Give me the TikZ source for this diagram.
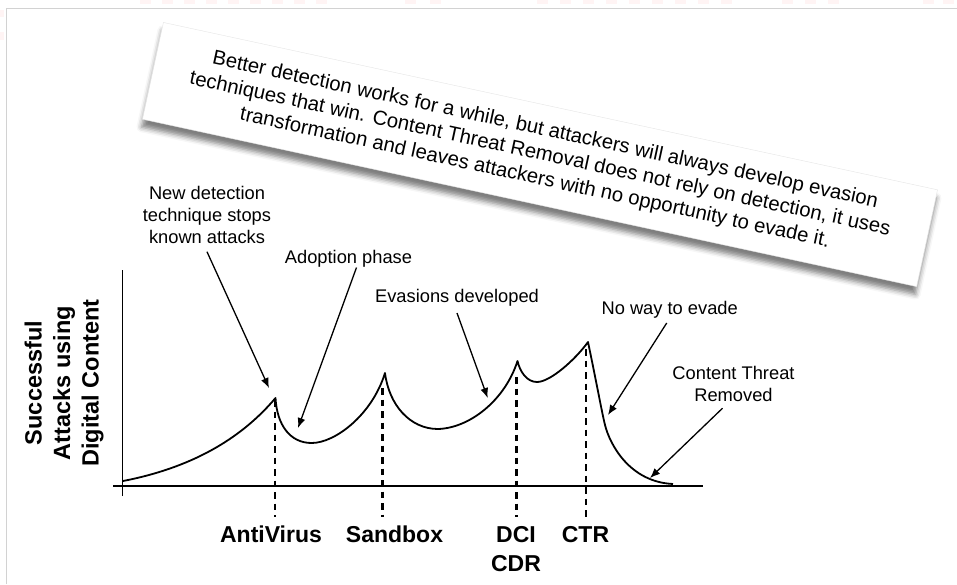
\documentclass[tikz,border=0pt]{standalone}
\usepackage{fontspec}
\setmainfont{Liberation Sans}
\usetikzlibrary{arrows.meta,shadows.blur}

\tikzset{
  note/.style={draw=gray!20, fill=white, minimum width=792pt, minimum height=99pt,
    inner sep=0pt, align=center, font=\fontsize{20.3}{24.5}\selectfont,
    blur shadow={shadow xshift=-1pt, shadow yshift=-8pt, shadow blur radius=5pt, shadow opacity=50}},
  remark/.style={inner sep=0pt, align=center, font=\fontsize{18.3}{22}\selectfont},
  techlabel/.style={anchor=north, inner sep=0pt, align=center, font=\fontsize{23}{29}\selectfont\bfseries},
  ylab/.style={rotate=90, inner sep=0pt, align=center, font=\fontsize{23.5}{28.5}\selectfont\bfseries},
  pointer/.style={-{Latex[length=10pt,width=8pt]}, line width=1.3pt},
  dropline/.style={dash pattern=on 6.5pt off 5pt, line width=2.8pt, shorten >=9pt},
  axisline/.style={line width=1.8pt},
  trend/.style={line width=1.8pt, line join=round},
}

\begin{document}
\begin{tikzpicture}[x=1pt, y=-1pt]
      \useasboundingbox (0,0) rectangle (957,584);

      % slide frame
      \foreach \x in {140,162,...,320, 405,430, 537,560,...,730, 782,805,828, 923,943}
        \fill[pink!18] (\x,0) rectangle ++(11,4);
      \fill[pink!18] (0,10) rectangle (4,17);
      \fill[pink!18] (0,32) rectangle (4,40);
      \draw[gray!35, line width=1pt] (6,584) -- (6,8) -- (957,8);

      % the note
      \node[note, rotate=-12.2] (memo) at (540,154.5)
        {Better detection works for a while, but attackers will always develop evasion\\
         techniques that win. Content Threat Removal does not rely on detection, it uses\\
         transformation and leaves attackers with no opportunity to evade it.};

      % axes
      \coordinate (xl) at (113,486);
      \coordinate (xr) at (703,486);
      \coordinate (yb) at (122.5,496);
      \coordinate (yt) at (122.5,270);
      \draw[axisline] (xl) -- (xr);
      \draw[axisline] (yb) -- (yt);

      \node[ylab] (ylabel) at (64,383) {Successful\\Attacks using\\Digital Content};

      % curve
      \coordinate (s0)   at (123,481);
      \coordinate (pk1)  at (275.5,398);
      \coordinate (m1)   at (311.7,443);
      \coordinate (pk2)  at (385,373);
      \coordinate (m2)   at (438,429);
      \coordinate (pk3)  at (517.5,361);
      \coordinate (m3)   at (537,382);
      \coordinate (pk4)  at (588,342);
      \coordinate (fall) at (605,425);
      \coordinate (tail) at (673,484);

      \draw[trend] (s0) .. controls (190,468) and (240,440) .. (pk1)
        .. controls (277,425) and (290,443) .. (m1)
        .. controls (335,443) and (372,415) .. (pk2)
        .. controls (389,405) and (410,429) .. (m2)
        .. controls (470,428) and (505,400) .. (pk3)
        .. controls (520,372) and (527,382) .. (m3)
        .. controls (550,382) and (575,360) .. (pk4)
        .. controls (597,385) and (602,413) .. (fall)
        .. controls (610,445) and (630,482) .. (tail);

      % technologies
      \node[techlabel] (av)  at (271,526)   {AntiVirus};
      \node[techlabel] (sbx) at (394.5,526) {Sandbox};
      \node[techlabel] (dci) at (516,526)   {DCI\\CDR};
      \node[techlabel] (ctr) at (585.5,526) {CTR};

      \draw[dropline] ([xshift=-0.5pt,yshift=-2pt]pk1) -- ([xshift=-0.5pt]pk1 |- av.north);
      \draw[dropline] ([xshift=-2.3pt,yshift=-15pt]pk2) -- ([xshift=-2.3pt]pk2 |- sbx.north);
      \draw[dropline] ([xshift=-0.8pt,yshift=-16pt]pk3) -- ([xshift=-0.8pt]pk3 |- dci.north);
      \draw[dropline] ([xshift=-2pt,yshift=-7pt]pk4) -- ([xshift=-2pt]pk4 |- ctr.north);

      % remarks
      \node[remark, anchor=north] (newdet) at (207,186.4) {New detection\\technique stops\\known attacks};
      \node[remark, anchor=base] (adopt) at (348.5,263.5) {Adoption phase};
      \node[remark, anchor=base] (evas) at (457,302.5) {Evasions developed};
      \node[remark, anchor=base] (noway) at (669.7,314.5) {No way to evade};
      \node[remark, anchor=north] (removed) at (733.5,366.4) {Content Threat\\Removed};

      \coordinate (tipAV) at (269,388);
      \coordinate (tipAD) at (298,428);
      \coordinate (tipEV) at (487.7,398);
      \coordinate (tipNW) at (608,415);
      \coordinate (tipCT) at (650,478);

      \draw[pointer] ([yshift=-7.5pt]newdet.south) -- (tipAV);
      \draw[pointer] ([xshift=8pt]adopt.south) -- (tipAD);
      \draw[pointer] ([yshift=-6.5pt]evas.south) -- (tipEV);
      \draw[pointer] ([xshift=-3pt,yshift=-4.5pt]noway.south) -- (tipNW);
      \draw[pointer] ([xshift=-11pt,yshift=-6pt]removed.south) -- (tipCT);
\end{tikzpicture}
\end{document}
